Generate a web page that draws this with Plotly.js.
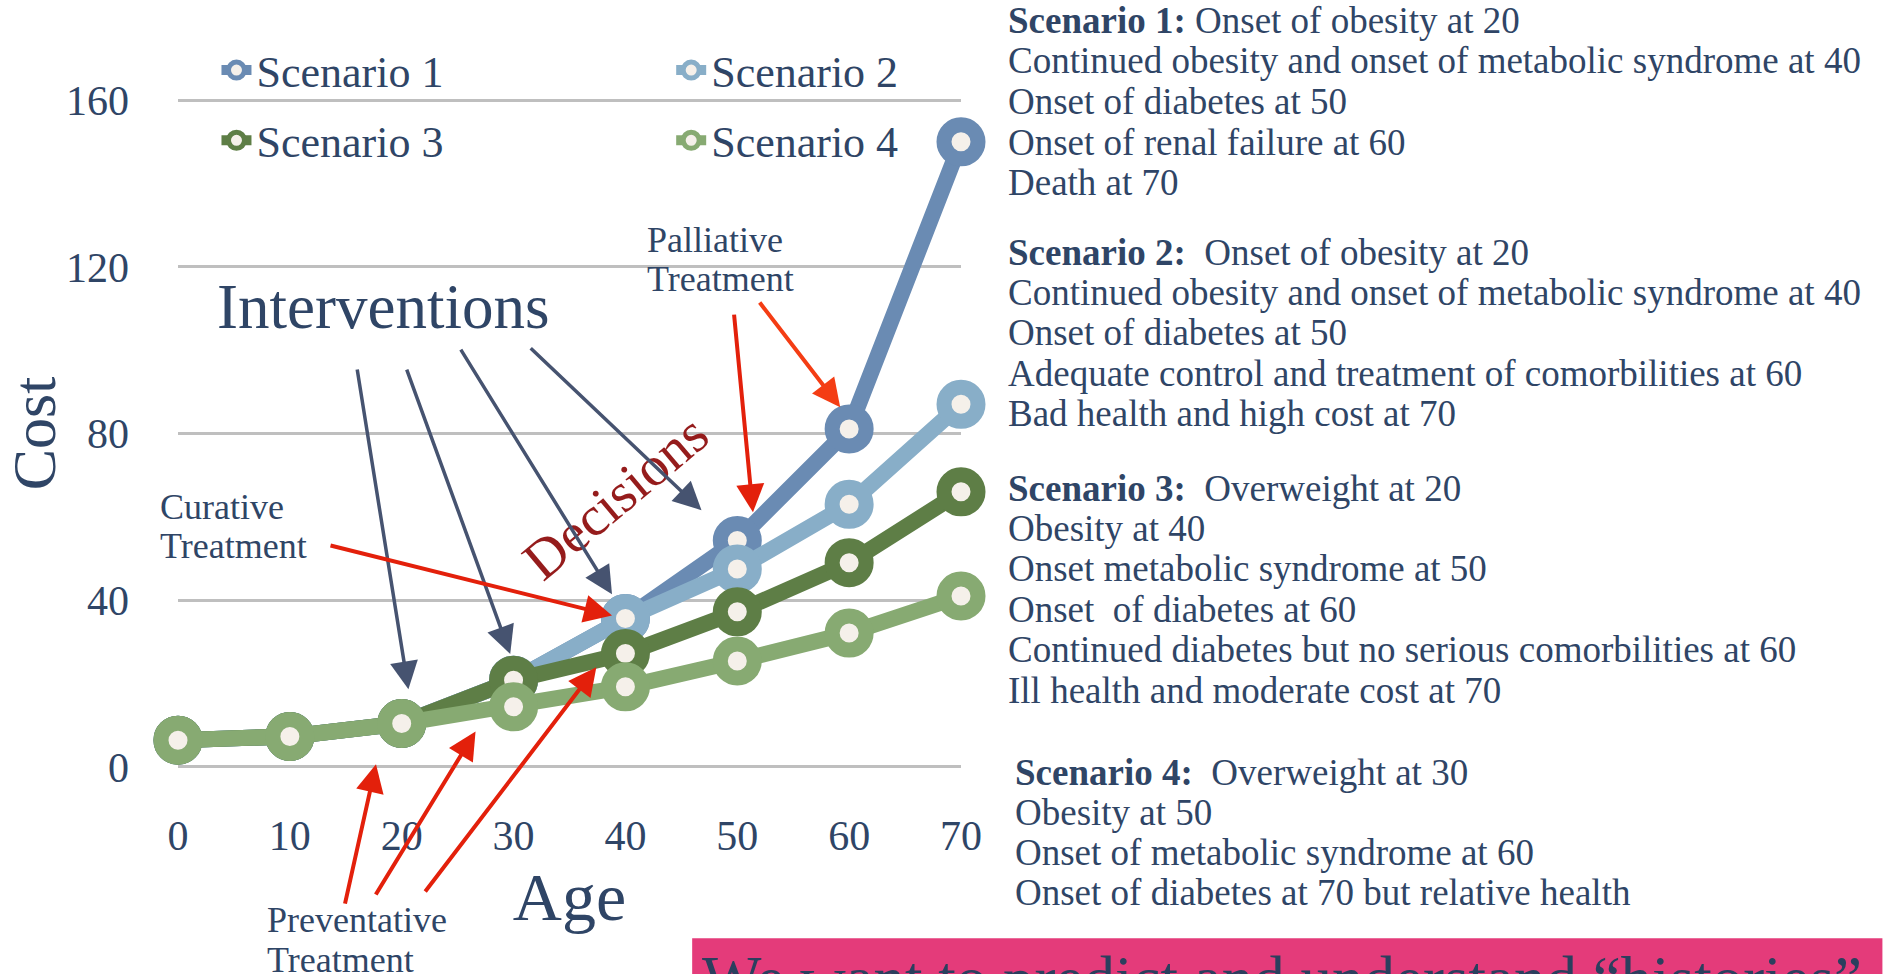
<!DOCTYPE html>
<html><head><meta charset="utf-8">
<script src="https://cdn.plot.ly/plotly-3.0.1.min.js"></script>
<style>html,body{margin:0;padding:0;background:#fff;overflow:hidden;} #chart{width:1893px;height:974px;}</style>
</head><body><div id="chart"></div>
<script>
// ---- data ----
const ages = [0, 10, 20, 30, 40, 50, 60, 70];
const scenario1 = [6.4, 7.3, 10.4, 20.8, 35.6, 54.3, 81.1, 150];
const scenario2 = [6.4, 7.3, 10.4, 20.8, 35.6, 47.5, 63, 87];
const scenario3 = [6.4, 7.3, 10.4, 20.8, 27.2, 37.2, 49, 66];
const scenario4 = [6.4, 7.3, 10.4, 14.4, 19.2, 25.4, 32.1, 41];
const seriesNames = ['Scenario 1', 'Scenario 2', 'Scenario 3', 'Scenario 4'];
const xTickVals = [0, 10, 20, 30, 40, 50, 60, 70];
const yTickVals = [0, 40, 80, 120, 160];
const xTitle = 'Age';
const yTitle = 'Cost';

const desc1 = ['<b>Scenario 1:</b> Onset of obesity at 20',
  'Continued obesity and onset of metabolic syndrome at 40',
  'Onset of diabetes at 50', 'Onset of renal failure at 60', 'Death at 70'];
const desc2 = ['<b>Scenario 2:</b>\u00a0 Onset of obesity at 20',
  'Continued obesity and onset of metabolic syndrome at 40',
  'Onset of diabetes at 50', 'Adequate control and treatment of comorbilities at 60',
  'Bad health and high cost at 70'];
const desc3 = ['<b>Scenario 3:</b>\u00a0 Overweight at 20', 'Obesity at 40',
  'Onset metabolic syndrome at 50', 'Onset\u00a0 of diabetes at 60',
  'Continued diabetes but no serious comorbilities at 60', 'Ill health and moderate cost at 70'];
const desc4 = ['<b>Scenario 4:</b>\u00a0 Overweight at 30', 'Obesity at 50',
  'Onset of metabolic syndrome at 60', 'Onset of diabetes at 70 but relative health'];

// annotation arrows: [headAge, headCost, tailAge, tailCost]
const interventionArrows = [[20.6, 18.6, 16.0, 95.7], [29.7, 27.1, 20.4, 95.7],
  [38.8, 41.4, 25.2, 100.5], [46.8, 61.6, 31.4, 100.8]];
const redArrows = [[51.4, 61.1, 49.7, 108.9, '#E3200B'], [59.2, 86.3, 51.9, 111.8, '#F43D14'],
  [38.8, 36.3, 13.5, 53.2, '#E3200B'], [17.7, 0.6, 14.9, -33.2, '#E3200B'],
  [26.6, 8.5, 17.6, -31.0, '#E3200B'], [37.4, 23.9, 22.0, -30.3, '#E3200B']];

// ---- style ----
const FONT = 'Liberation Serif, Times New Roman, serif';
const TXT = '#2F4566';
const colors = ['#6A8BB3', '#88AEC8', '#5E7E46', '#87AA72'];
const FILL = '#F5F0EA';

// plot area in pixels
const L = 177.5, R = 961, T = 96.0, B = 770.8;
const px = x => (x - L) / (R - L);
const py = y => (B - y) / (B - T);

const series = [scenario1, scenario2, scenario3, scenario4];
const traces = series.map((vals, i) => ({
  type: 'scatter', mode: 'lines+markers', x: ages, y: vals, name: seriesNames[i],
  legend: (i % 2 === 0) ? 'legend' : 'legend2', legendgroup: 'g' + i,
  line: {color: colors[i], width: 16},
  marker: {size: 34, color: FILL, line: {color: colors[i], width: 15}},
  cliponaxis: false, hoverinfo: 'skip'
}));

const annotations = [];
function textLines(lines, x0, y0, step, size) {
  lines.forEach((t, k) => annotations.push({
    xref: 'paper', yref: 'paper', x: px(x0), y: py(y0 + k * step), xanchor: 'left', yanchor: 'middle',
    text: t, showarrow: false, font: {family: FONT, size: size, color: TXT}
  }));
}
textLines(desc1, 1006.5, 20.5, 40.5, 37);
textLines(desc2, 1006.5, 252, 40.4, 37);
textLines(desc3, 1006.5, 488, 40.4, 37);
textLines(desc4, 1013.5, 772, 40.0, 37);
textLines(['Palliative', 'Treatment'], 644.5, 240, 39, 36);
textLines(['Curative', 'Treatment'], 157, 507, 39, 36);
textLines(['Preventative', 'Treatment'], 265, 920, 40, 36);

annotations.push({xref: 'paper', yref: 'paper', x: px(383), y: py(307), xanchor: 'center', yanchor: 'middle',
  text: 'Interventions', showarrow: false, font: {family: FONT, size: 63, color: TXT}});
annotations.push({xref: 'paper', yref: 'paper', x: px(615), y: py(497), xanchor: 'center', yanchor: 'middle',
  text: 'Decisions', textangle: -40, showarrow: false, font: {family: FONT, size: 56, color: '#951C1C'}});
annotations.push({xref: 'paper', yref: 'paper', x: px(700), y: py(942), xanchor: 'left', yanchor: 'top',
  text: 'We want to predict and understand \u201chistories\u201d', showarrow: false,
  font: {family: FONT, size: 63, color: '#2B3F5E'}});

interventionArrows.forEach(a => annotations.push({
  xref: 'x', yref: 'y', axref: 'x', ayref: 'y', x: a[0], y: a[1], ax: a[2], ay: a[3], text: '',
  showarrow: true, arrowhead: 2, arrowsize: 1.6, arrowwidth: 3.5, arrowcolor: '#465370', standoff: 0
}));
redArrows.forEach(a => annotations.push({
  xref: 'x', yref: 'y', axref: 'x', ayref: 'y', x: a[0], y: a[1], ax: a[2], ay: a[3], text: '',
  showarrow: true, arrowhead: 2, arrowsize: 1.4, arrowwidth: 4, arrowcolor: a[4], standoff: 0
}));

const legendFont = {family: FONT, size: 44, color: TXT};
const layout = {
  width: 1893, height: 974,
  margin: {l: L, r: 1893 - R, t: T, b: 974 - B, pad: 0},
  paper_bgcolor: '#FFFFFF', plot_bgcolor: '#FFFFFF',
  font: {family: FONT, color: TXT},
  xaxis: {range: [0, 70], tickvals: xTickVals, showgrid: false, zeroline: false, showline: false,
    ticks: '', ticklabelstandoff: 36, tickfont: {family: FONT, size: 42, color: TXT},
    title: {text: xTitle, standoff: 12, font: {family: FONT, size: 68, color: TXT}}},
  yaxis: {range: [-1, 161], tickvals: yTickVals, showgrid: true, gridcolor: '#BFBFBF', gridwidth: 3,
    zeroline: false, showline: false, ticks: '', ticklabelstandoff: 48,
    tickfont: {family: FONT, size: 42, color: TXT},
    title: {text: yTitle, standoff: 8, font: {family: FONT, size: 62, color: TXT}}},
  showlegend: true,
  legend: {x: px(216), y: py(35), xanchor: 'left', yanchor: 'top', bgcolor: 'rgba(0,0,0,0)',
    font: legendFont, tracegroupgap: 10, itemwidth: 30},
  legend2: {x: px(671), y: py(35), xanchor: 'left', yanchor: 'top', bgcolor: 'rgba(0,0,0,0)',
    font: legendFont, tracegroupgap: 10, itemwidth: 30},
  shapes: [{type: 'rect', xref: 'paper', yref: 'paper', x0: px(692), x1: px(1883), y0: py(938), y1: py(1000),
    fillcolor: '#E43B7A', line: {width: 0}, layer: 'below'}],
  annotations: annotations
};

Plotly.newPlot('chart', traces, layout, {displayModeBar: false, staticPlot: true});
</script>
</body></html>
